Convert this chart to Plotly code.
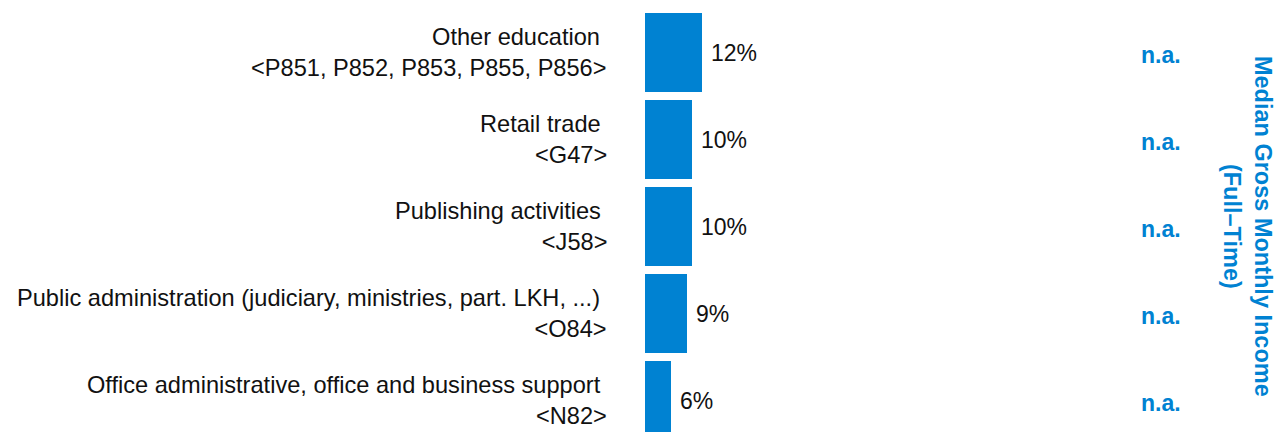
import plotly.graph_objects as go

categories = [
    "Other education",
    "Retail trade",
    "Publishing activities",
    "Public administration (judiciary, ministries, part. LKH, ...)",
    "Office administrative, office and business support",
]
codes = [
    "P851, P852, P853, P855, P856",
    "G47",
    "J58",
    "O84",
    "N82",
]
shares = [12.0, 9.9, 9.9, 8.8, 5.5]
share_labels = ["12%", "10%", "10%", "9%", "6%"]
income_labels = ["n.a.", "n.a.", "n.a.", "n.a.", "n.a."]
side_title = "Median Gross Monthly Income<br>(Full\u2013Time)"

BLUE = "#0082D2"
FONT = "Liberation Sans, Arial, sans-serif"

# figure is drawn 8px in from the page corner (body margin)
W, H = 1282, 432
left = 636.5
px_per_unit = 4.75
pitch = 87.0
first_center = 44.5

ypos = list(range(len(categories)))

fig = go.Figure()
fig.add_trace(go.Bar(
    x=shares, y=ypos, orientation="h",
    marker=dict(color=BLUE, line=dict(width=0)),
    width=79 / pitch,
    hoverinfo="skip",
))

annotations = []
for i, (cat, code, lab, inc) in enumerate(zip(categories, codes, share_labels, income_labels)):
    annotations.append(dict(
        x=0, y=i, xref="x", yref="y", xanchor="right", yanchor="middle",
        xshift=-36, align="right", showarrow=False,
        text=cat + "\u00a0<br>&lt;" + code + "&gt;",
        font=dict(family=FONT, size=23.6, color="#111111"),
    ))
    annotations.append(dict(
        x=shares[i], y=i, xref="x", yref="y", xanchor="left", yanchor="middle",
        xshift=7, showarrow=False, text=lab,
        font=dict(family=FONT, size=23, color="#111111"),
    ))
    annotations.append(dict(
        x=(1175 - left) / (W - left), y=i, xref="paper", yref="y",
        xanchor="right", yanchor="middle", yshift=-2, showarrow=False,
        text="<b>" + inc + "</b>",
        font=dict(family=FONT, size=23, color=BLUE),
    ))

annotations.append(dict(
    x=(1240 - left) / (W - left), y=(H - 218) / H, xref="paper", yref="paper",
    xanchor="center", yanchor="middle", textangle=90, showarrow=False,
    text="<b>" + side_title + "</b>",
    font=dict(family=FONT, size=23.5, color=BLUE),
))

xmax = (W - left) / px_per_unit
y_top = -first_center / pitch
y_bot = (H - first_center) / pitch

fig.update_layout(
    width=W, height=H,
    margin=dict(l=left, r=0, t=0, b=0, pad=0),
    paper_bgcolor="white", plot_bgcolor="white",
    showlegend=False,
    xaxis=dict(range=[0, xmax], visible=False, fixedrange=True),
    yaxis=dict(range=[y_bot, y_top], visible=False, fixedrange=True),
    annotations=annotations,
    bargap=0,
)

fig.write_html("out.html")
